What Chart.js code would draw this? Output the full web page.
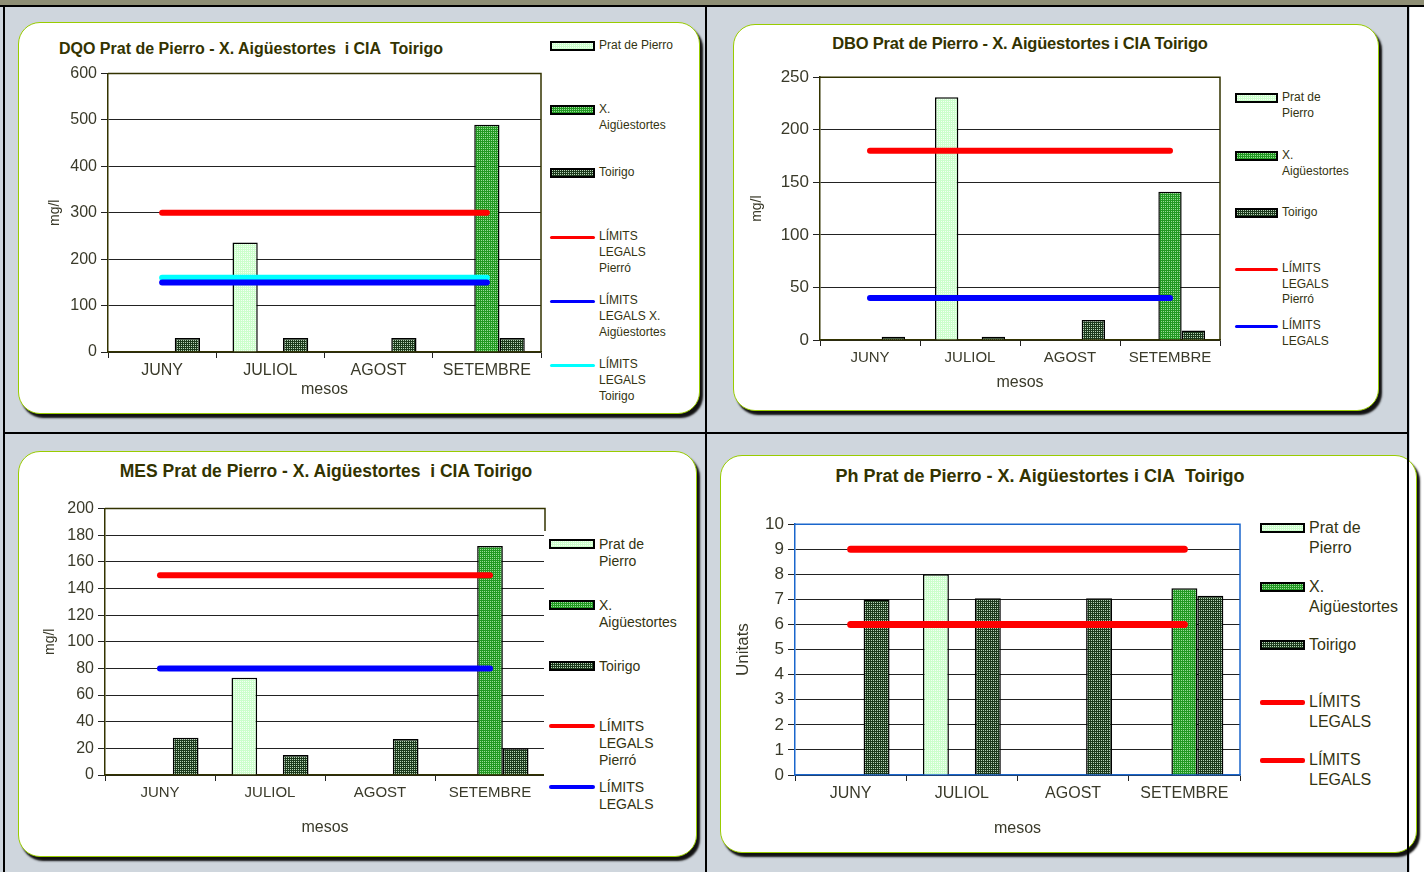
<!DOCTYPE html>
<html>
<head>
<meta charset="utf-8">
<script src="https://cdn.jsdelivr.net/npm/chart.js@4/dist/chart.umd.min.js"></script>
<style>
  body { margin: 0; width: 1424px; height: 872px; overflow: hidden; position: relative;
         background: #cfd6dd; font-family: "Liberation Sans", Arial, sans-serif; }
  .abs { position: absolute; }
  .panel { position: absolute; background: #fff; border: 1.5px solid #99cc00; border-radius: 22px;
           box-shadow: 3px 4px 2px #111; box-sizing: border-box; }
  .title { position: absolute; font-weight: bold; color: #333300; text-align: center; white-space: nowrap; line-height: 1.2; }
  .leg { position: absolute; color: #333311; white-space: pre; }
  canvas { position: absolute; }
</style>
</head>
<body>
<div class="abs" style="left:1410px;top:0;width:14px;height:872px;background:#fff"></div>
<div class="abs" style="left:0;top:0;width:1424px;height:5px;background:#8f8f75"></div>

<div class="panel" style="left:18px;top:22px;width:682px;height:392px"></div>
<div class="panel" style="left:733px;top:24px;width:646px;height:387px"></div>
<div class="panel" style="left:18px;top:451px;width:679px;height:406px"></div>
<div class="panel" style="left:720px;top:455px;width:697px;height:398px"></div>

<div class="title" style="left:51px;width:400px;top:39px;font-size:16px">DQO Prat de Pierro - X. Aigüestortes&nbsp; i CIA&nbsp; Toirigo</div>
<div class="title" style="left:820px;width:400px;top:34px;font-size:16.5px;letter-spacing:-0.2px">DBO Prat de Pierro - X. Aigüestortes i CIA Toirigo</div>
<div class="title" style="left:96px;width:460px;top:461px;font-size:17.5px">MES Prat de Pierro - X. Aigüestortes&nbsp; i CIA Toirigo</div>
<div class="title" style="left:810px;width:460px;top:466px;font-size:18px">Ph Prat de Pierro - X. Aigüestortes i CIA&nbsp; Toirigo</div>

<script>
const months = ["JUNY", "JULIOL", "AGOST", "SETEMBRE"];

// DQO
const dqoPrat = [null, 236, null, null];
const dqoAig = [null, null, null, 490];
const dqoToirigo = [30, 30, 30, 30];
const dqoLimitPierro = [300, 300, 300, 300];
const dqoLimitAig = [150, 150, 150, 150];
const dqoLimitToirigo = [160, 160, 160, 160];
const dqoLabels = ["Prat de Pierro", "X.\nAigüestortes", "Toirigo", "LÍMITS\nLEGALS\nPierró", "LÍMITS\nLEGALS X.\nAigüestortes", "LÍMITS\nLEGALS\nToirigo"];
const dqoTicks = [0, 100, 200, 300, 400, 500, 600];

// DBO
const dboPrat = [null, 231, null, null];
const dboAig = [null, null, null, 141];
const dboToirigo = [3, 3, 19, 9];
const dboLimitPierro = [180, 180, 180, 180];
const dboLimit = [40, 40, 40, 40];
const dboLabels = ["Prat de\nPierro", "X.\nAigüestortes", "Toirigo", "LÍMITS\nLEGALS\nPierró", "LÍMITS\nLEGALS"];
const dboTicks = [0, 50, 100, 150, 200, 250];

// MES
const mesPrat = [null, 73, null, null];
const mesAig = [null, null, null, 172];
const mesToirigo = [28, 15, 27, 20];
const mesLimitPierro = [150, 150, 150, 150];
const mesLimit = [80, 80, 80, 80];
const mesLabels = ["Prat de\nPierro", "X.\nAigüestortes", "Toirigo", "LÍMITS\nLEGALS\nPierró", "LÍMITS\nLEGALS"];
const mesTicks = [0, 20, 40, 60, 80, 100, 120, 140, 160, 180, 200];

// Ph
const phPrat = [null, 8, null, null];
const phAig = [null, null, null, 7.45];
const phToirigo = [7, 7.05, 7.05, 7.15];
const phLimitMax = [9, 9, 9, 9];
const phLimitMin = [6, 6, 6, 6];
const phLabels = ["Prat de\nPierro", "X.\nAigüestortes", "Toirigo", "LÍMITS\nLEGALS", "LÍMITS\nLEGALS"];
const phTicks = [0, 1, 2, 3, 4, 5, 6, 7, 8, 9, 10];

function tile(base, dot) {
  const c = document.createElement("canvas");
  c.width = 4; c.height = 4;
  const g = c.getContext("2d");
  g.fillStyle = base; g.fillRect(0, 0, 4, 4);
  g.fillStyle = dot;
  [[0, 0], [2, 2], [0, 2], [2, 0]].forEach(p => g.fillRect(p[0], p[1], 1, 1));
  return c;
}
const tiles = [tile("#ccffcc", "#f4fff4"), tile("#229922", "#99dd99"), tile("#1c3a1c", "#b8d4b8")];

const framePlugin = {
  id: "frame",
  beforeDatasetsDraw(chart, args, opts) {
    const a = chart.chartArea, g = chart.ctx;
    g.save();
    g.strokeStyle = opts.color || "#333300";
    g.lineWidth = 1.5;
    g.beginPath();
    g.moveTo(a.left, a.top); g.lineTo(a.right, a.top); g.lineTo(a.right, a.bottom);
    g.stroke();
    g.restore();
  }
};

const txt = "#3a3a2a";

function makeChart(o) {
  const cv = document.createElement("canvas");
  cv.width = o.w; cv.height = o.h;
  cv.style.left = o.x + "px"; cv.style.top = o.y + "px";
  document.body.appendChild(cv);
  const ctx = cv.getContext("2d");

  const datasets = [];
  o.bars.forEach((d, i) => datasets.push({
    type: "bar", label: o.labels[i], data: d,
    backgroundColor: ctx.createPattern(tiles[i], "repeat"),
    borderColor: "#000", borderWidth: 1.5, borderSkipped: "bottom",
    categoryPercentage: 0.7, barPercentage: 1, order: 2
  }));
  o.lines.forEach((d, i) => datasets.push({
    type: "line", label: o.labels[3 + i], data: d,
    borderColor: o.lineColors[i], borderWidth: o.lw, borderCapStyle: "round",
    pointRadius: 0, fill: false, order: 1
  }));

  new Chart(ctx, {
    type: "bar",
    data: { labels: months, datasets },
    plugins: [framePlugin],
    options: {
      responsive: false, animation: false, events: [],
      layout: { padding: { left: 0, top: 12, right: 2, bottom: 2 } },
      plugins: { legend: { display: false }, tooltip: { enabled: false }, frame: { color: o.frame } },
      scales: {
        x: {
          ticks: { color: txt, font: { size: o.xFont, family: "Liberation Sans" }, padding: 3 },
          grid: { drawOnChartArea: false, tickLength: 6, color: "#222", offset: true },
          border: { color: o.frame, width: 1.5 },
          title: { display: true, text: "mesos", color: txt, font: { size: 16, family: "Liberation Sans" } },
          afterFit: s => { s.height = o.hx; }
        },
        y: {
          min: 0, max: o.ticks[o.ticks.length - 1],
          afterBuildTicks: s => { s.ticks = o.ticks.map(v => ({ value: v })); },
          ticks: { color: txt, font: { size: o.yFont, family: "Liberation Sans" }, padding: 4 },
          grid: { color: "#222", lineWidth: 1, tickLength: 7 },
          border: { color: o.frame, width: 1.5 },
          title: { display: true, text: o.yTitle, color: txt, font: { size: o.yTitleFont, family: "Liberation Sans" } },
          afterFit: s => { s.width = o.wy; }
        }
      }
    }
  });

  // legend
  if (o.legBg) {
    const bg = document.createElement("div");
    bg.className = "abs";
    Object.assign(bg.style, o.legBg);
    bg.style.background = "#fff";
    document.body.appendChild(bg);
  }
  o.labels.forEach((lab, i) => {
    const cy = o.legTops[i];
    const sw = document.createElement("div");
    sw.className = "abs";
    if (i < 3) {
      Object.assign(sw.style, {
        left: o.legX + "px", top: (cy - 5) + "px", width: o.swW + "px", height: "10px",
        boxSizing: "border-box", border: "2px solid #000",
        backgroundImage: "url(" + tiles[i].toDataURL() + ")"
      });
    } else {
      Object.assign(sw.style, {
        left: o.legX + "px", top: (cy - o.swLine / 2) + "px", width: o.swW + "px",
        height: o.swLine + "px", background: o.lineColors[i - 3], borderRadius: "2px"
      });
    }
    document.body.appendChild(sw);
    const t = document.createElement("div");
    t.className = "leg";
    t.textContent = lab;
    Object.assign(t.style, {
      left: (o.legX + o.swW + 4) + "px", top: (cy - o.legLh / 2) + "px",
      fontSize: o.legFont + "px", lineHeight: o.legLh + "px"
    });
    document.body.appendChild(t);
  });
}

makeChart({
  x: 43, y: 60, w: 500, h: 345, wy: 65, hx: 51, xFont: 16, yFont: 16,
  yTitle: "mg/l", yTitleFont: 14, ticks: dqoTicks, frame: "#333300",
  bars: [dqoPrat, dqoAig, dqoToirigo], lines: [dqoLimitPierro, dqoLimitAig, dqoLimitToirigo],
  lineColors: ["#ff0000", "#0000ff", "#00ffff"], lw: 6, labels: dqoLabels,
  legX: 550, swW: 45, swLine: 3, legFont: 12, legLh: 15.7, legTops: [46, 110, 173, 237, 301, 365]
});

makeChart({
  x: 745, y: 63, w: 477, h: 335, wy: 75, hx: 56, xFont: 15, yFont: 17,
  yTitle: "mg/l", yTitleFont: 14, ticks: dboTicks, frame: "#333300",
  bars: [dboPrat, dboAig, dboToirigo], lines: [dboLimitPierro, dboLimit],
  lineColors: ["#ff0000", "#0000ff"], lw: 6, labels: dboLabels,
  legX: 1235, swW: 43, swLine: 3, legFont: 12, legLh: 15.3, legTops: [98, 156, 213, 269, 326]
});

makeChart({
  x: 38, y: 495, w: 509, h: 348, wy: 67, hx: 66, xFont: 15, yFont: 16,
  yTitle: "mg/l", yTitleFont: 14, ticks: mesTicks, frame: "#333300",
  bars: [mesPrat, mesAig, mesToirigo], lines: [mesLimitPierro, mesLimit],
  lineColors: ["#ff0000", "#0000ff"], lw: 6, labels: mesLabels,
  legBg: { left: "544px", top: "531px", width: "140px", height: "285px" },
  legX: 549, swW: 46, swLine: 4, legFont: 14, legLh: 17, legTops: [544, 605, 666, 726, 787]
});

makeChart({
  x: 729, y: 510, w: 513, h: 334, wy: 66, hx: 67, xFont: 16, yFont: 17,
  yTitle: "Unitats", yTitleFont: 17, ticks: phTicks, frame: "#1a66cc",
  bars: [phPrat, phAig, phToirigo], lines: [phLimitMax, phLimitMin],
  lineColors: ["#ff0000", "#ff0000"], lw: 7, labels: phLabels,
  legX: 1260, swW: 45, swLine: 5, legFont: 16, legLh: 19.5, legTops: [528, 587, 645, 702, 760]
});
</script>

<div class="abs" style="left:0;top:5px;width:1424px;height:2px;background:#000"></div>
<div class="abs" style="left:3px;top:5px;width:2px;height:867px;background:#000"></div>
<div class="abs" style="left:705px;top:5px;width:2px;height:867px;background:#000"></div>
<div class="abs" style="left:1407px;top:5px;width:2px;height:867px;background:#000"></div>
<div class="abs" style="left:3px;top:432px;width:1406px;height:2px;background:#000"></div>
</body>
</html>
